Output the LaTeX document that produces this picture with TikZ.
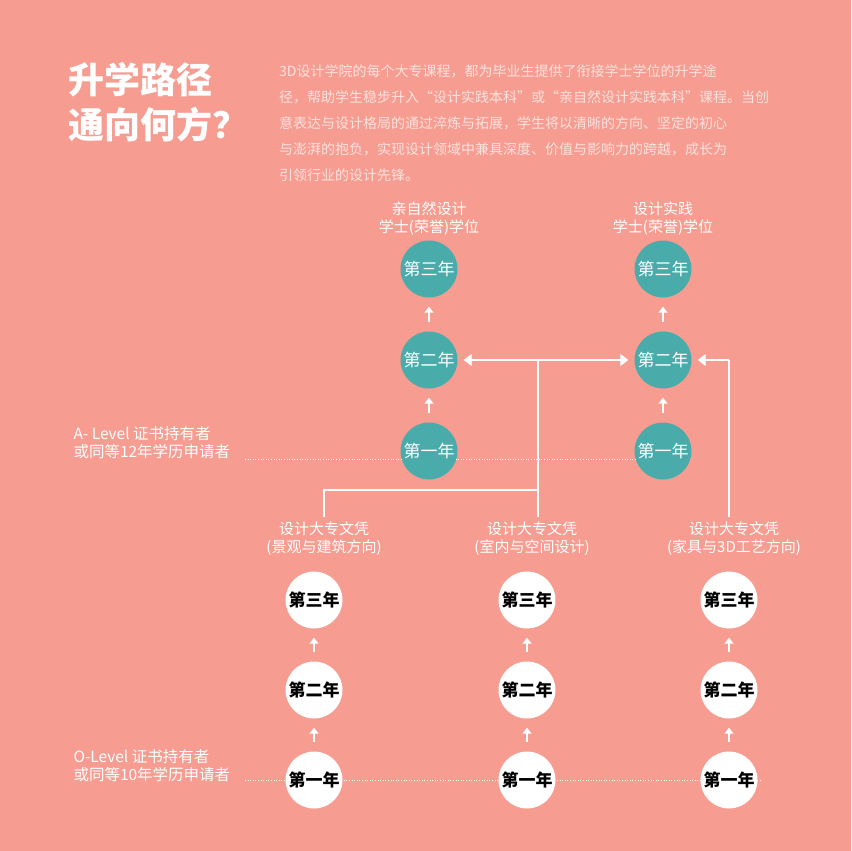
\documentclass[tikz,border=0pt]{standalone}
\usepackage{fontspec}
\setmainfont{Noto Sans CJK SC}
\usetikzlibrary{arrows.meta}
\definecolor{bg}{RGB}{246,156,145}
\definecolor{teal}{RGB}{74,171,171}
\definecolor{para}{RGB}{252,226,222}
\begin{document}
\begin{tikzpicture}[x=1pt,y=-1pt,
 tc/.style={circle,fill=teal,minimum size=57pt,inner sep=0pt,text=white,font=\fontsize{17}{17}\selectfont},
 wc/.style={circle,fill=white,minimum size=57pt,inner sep=0pt,text=black,font=\fontsize{17}{17}\selectfont\bfseries},
 up/.style={white,line width=1.3pt,-{Triangle[width=9pt,length=6pt]},shorten <=9pt,shorten >=9pt},
 ln/.style={white,line width=1.3pt},
 ar/.style={white,line width=1.3pt,-{Triangle[width=12pt,length=8pt]},shorten >=6pt},
 lab/.style={text=white,font=\fontsize{15}{18}\selectfont,align=center},
 side/.style={text=white,font=\fontsize{15.5}{18}\selectfont,align=left,anchor=west},
 dots/.style={white,line width=0.6pt,dotted}]
\fill[bg] (0,0) rectangle (851,851);
\useasboundingbox (0,0) rectangle (851,851);
\node[anchor=west,text=white,font=\fontsize{36}{45}\selectfont\bfseries,align=left,inner sep=0pt] (title) at (68,102) {升学路径\\通向何方？};
\node[anchor=north west,text=para,font=\fontsize{14}{26}\selectfont,align=left,inner sep=0pt] (para) at (279,64)
{3D设计学院的每个大专课程，都为毕业生提供了衔接学士学位的升学途\\径，帮助学生稳步升入“设计实践本科”或“亲自然设计实践本科”课程。当创\\意表达与设计格局的通过淬炼与拓展，学生将以清晰的方向、坚定的初心\\与澎湃的抱负，实现设计领域中兼具深度、价值与影响力的跨越，成长为\\引领行业的设计先锋。};
% dotted lines
\coordinate (da1) at (245,459); \coordinate (da2) at (663,459);
\coordinate (do1) at (245,780); \coordinate (do2) at (760,780);
\draw[dots] (da1) -- (da2);
\draw[dots] (do1) -- (do2);
% teal
\node[tc] (a1) at (429,451) {第一年};
\node[tc] (a2) at (429,360) {第二年};
\node[tc] (a3) at (429,269) {第三年};
\node[tc] (b1) at (663,451) {第一年};
\node[tc] (b2) at (663,360) {第二年};
\node[tc] (b3) at (663,269) {第三年};
\node[lab] (ta) at (429,219) {亲自然设计\\学士(荣誉)学位};
\node[lab] (tb) at (663,219) {设计实践\\学士(荣誉)学位};
% white
\foreach \n/\x in {c/314,d/527,e/729}{
 \node[wc] (\n1) at (\x,780) {第一年};
 \node[wc] (\n2) at (\x,690) {第二年};
 \node[wc] (\n3) at (\x,600) {第三年};
 \draw[up] (\n1) -- (\n2);
 \draw[up] (\n2) -- (\n3);
}
\draw[up] (a1) -- (a2); \draw[up] (a2) -- (a3);
\draw[up] (b1) -- (b2); \draw[up] (b2) -- (b3);
\node[lab] (tc) at (324,539) {设计大专文凭\\(景观与建筑方向)};
\node[lab] (td) at (532,539) {设计大专文凭\\(室内与空间设计)};
\node[lab] (te) at (734,539) {设计大专文凭\\(家具与3D工艺方向)};
\node[side] (sa) at (70,443) {A- Level 证书持有者\\或同等12年学历申请者};
\node[side] (so) at (70,766) {O-Level 证书持有者\\或同等10年学历申请者};
% connectors
\coordinate (j) at (538,360);
\coordinate (k) at (538,490);
\coordinate (cL) at (324,490);
\coordinate (cB) at (324,517);
\coordinate (dB) at (538,517);
\coordinate (eB) at (729,517);
\coordinate (eT) at (729,360);
\draw[ln] (cB) -- (cL) -- (k);
\draw[ln] (dB) -- (j);
\draw[ar] (j) -- (a2);
\draw[ar] (j) -- (b2);
\draw[ln] (eB) -- (eT);
\draw[ar] (eT) -- (b2);
\end{tikzpicture}
\end{document}
